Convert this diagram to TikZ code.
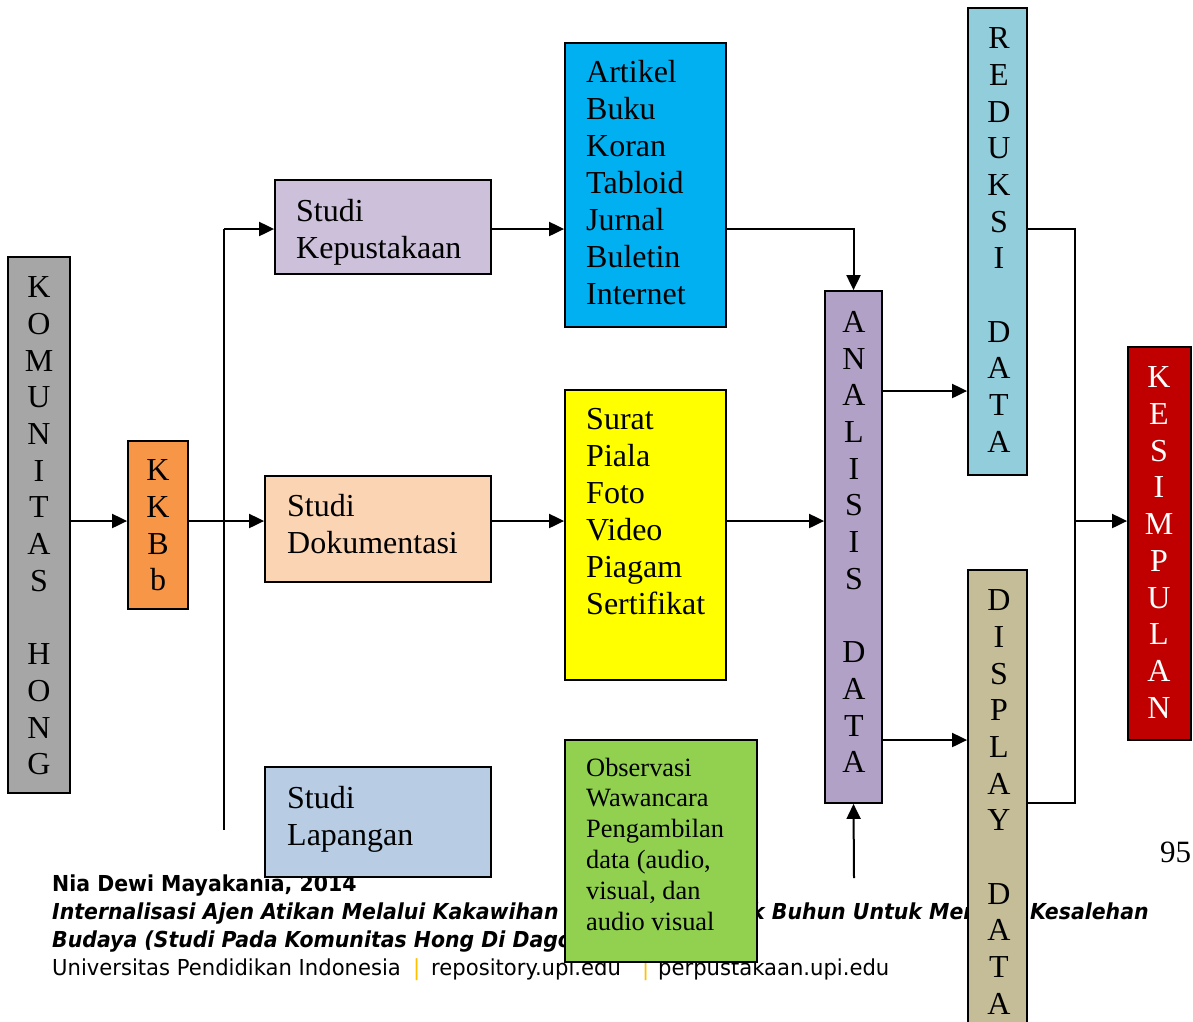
\documentclass[tikz,border=0pt]{standalone}
\usepackage{fontspec}
\setmainfont{Liberation Serif}
\newfontfamily\footfont{DejaVu Sans}[FakeStretch=0.96]
\newfontfamily\footfontb{DejaVu Sans}[FakeStretch=0.93]
\usetikzlibrary{arrows.meta}
\definecolor{cgray}{HTML}{A6A6A6}
\definecolor{corange}{HTML}{F79646}
\definecolor{clilac}{HTML}{CCC0DA}
\definecolor{cpeach}{HTML}{FBD4B4}
\definecolor{cpale}{HTML}{B8CCE4}
\definecolor{ccyan}{HTML}{00B0F0}
\definecolor{cyell}{HTML}{FFFF00}
\definecolor{cgreen}{HTML}{92D050}
\definecolor{cpurp}{HTML}{B2A1C7}
\definecolor{cteal}{HTML}{92CDDC}
\definecolor{ctan}{HTML}{C4BD97}
\definecolor{cred}{HTML}{C00000}
\definecolor{cbar}{HTML}{FFC000}
\begin{document}
\begin{tikzpicture}[x=1pt,y=-1pt,
  box/.style={draw=black, line width=1.8pt, inner sep=0pt},
  vtxt/.style={font=\fontsize{32}{36.7}\selectfont, align=center, inner sep=0pt},
  ltxt/.style={font=\fontsize{32}{37}\selectfont, align=left, anchor=north west, inner sep=0pt},
  stxt/.style={font=\fontsize{26.4}{30.8}\selectfont, align=left, anchor=north west, inner sep=0pt},
  foot/.style={font=\footfont\fontsize{22}{28}\selectfont, anchor=base west, inner sep=0pt},
  footb/.style={font=\footfontb\fontsize{22}{28}\selectfont\bfseries, anchor=base west, inner sep=0pt},
  arr/.style={line width=2pt, -{Triangle[length=15pt,width=14pt]}},
  conn/.style={line width=1.6pt}]
\useasboundingbox (0,0) rectangle (1193,1021);

% footer (drawn first, partly covered by boxes)
\node[footb] (f1) at (52,891) {Nia Dewi Mayakania, 2014};
\node[footb] (f2a) at (52,919) {\itshape Internalisasi Ajen Atikan Melalui Kakawihan B};
\node[footb] (f2b) at (751,919) {\itshape k Buhun Untuk Mem};
\node[footb] (f2c) at (1030,919) {\itshape Kesalehan};
\node[footb] (f3) at (52,947) {\itshape Budaya (Studi Pada Komunitas Hong Di Dago};
\node[foot] (f4a) at (52,975) {Universitas Pendidikan Indonesia};
\node[foot, text=cbar] (f4b) at (413,975) {|};
\node[foot] (f4c) at (431,975) {repository.upi.edu};
\node[foot, text=cbar] (f4d) at (642,975) {|};
\node[foot] (f4e) at (658,975) {perpustakaan.upi.edu};

% boxes
\node[box, fill=cgray, minimum width=62, minimum height=536] (kom) at (39,525) {};
\node[box, fill=corange, minimum width=60, minimum height=168] (kkbb) at (158,525) {};
\node[box, fill=clilac, minimum width=216, minimum height=94] (skep) at (383,227) {};
\node[box, fill=cpeach, minimum width=226, minimum height=106] (sdok) at (378,529) {};
\node[box, fill=cpale, minimum width=226, minimum height=110] (slap) at (378,822) {};
\node[box, fill=ccyan, minimum width=161, minimum height=284] (art) at (645.5,185) {};
\node[box, fill=cyell, minimum width=161, minimum height=290] (sur) at (645.5,535) {};
\node[box, fill=cgreen, minimum width=192, minimum height=222] (obs) at (661,851) {};
\node[box, fill=cpurp, minimum width=57, minimum height=512] (ana) at (853.5,547) {};
\node[box, fill=cteal, minimum width=59, minimum height=467] (red) at (997.5,241.5) {};
\node[box, fill=ctan, minimum width=59, minimum height=470] (dis) at (997.5,805) {};
\node[box, fill=cred, minimum width=63, minimum height=393] (kes) at (1159.5,543.5) {};

% texts
\node[vtxt] (kom-t) at (39,526) {K\\O\\M\\U\\N\\I\\T\\A\\S\\\mbox{}\\H\\O\\N\\G};
\node[vtxt] (kkbb-t) at (158,525.5) {K\\K\\B\\b};
\node[ltxt] (skep-t) at (296,199) {Studi\\Kepustakaan};
\node[ltxt] (sdok-t) at (287,494.5) {Studi\\Dokumentasi};
\node[ltxt] (slap-t) at (287,786) {Studi\\Lapangan};
\node[ltxt] (art-t) at (586,60.5) {Artikel\\Buku\\Koran\\Tabloid\\Jurnal\\Buletin\\Internet};
\node[ltxt] (sur-t) at (586,408.5) {Surat\\Piala\\Foto\\Video\\Piagam\\Sertifikat};
\node[stxt] (obs-t) at (586,757.5) {Observasi\\Wawancara\\Pengambilan\\data (audio,\\visual, dan\\audio visual};
\node[vtxt] (ana-t) at (854,542) {A\\N\\A\\L\\I\\S\\I\\S\\\mbox{}\\D\\A\\T\\A};
\node[vtxt] (red-t) at (999,240) {R\\E\\D\\U\\K\\S\\I\\\mbox{}\\D\\A\\T\\A};
\node[vtxt] (dis-t) at (999,802) {D\\I\\S\\P\\L\\A\\Y\\\mbox{}\\D\\A\\T\\A};
\node[vtxt, text=white] (kes-t) at (1159,542.5) {K\\E\\S\\I\\M\\P\\U\\L\\A\\N};
\node[font=\fontsize{31}{36}\selectfont, anchor=base west, inner sep=0pt] (page) at (1160,862) {95};

% helper coordinates
\coordinate (lvlA) at (0,521);
\coordinate (trTop) at (224,229);
\coordinate (trBot) at (224,830);
\coordinate (anaIn) at (854,878);
\coordinate (lvlR) at (0,391);
\coordinate (lvlD) at (0,740);
\coordinate (jTop) at (1075,229);
\coordinate (jMid) at (1075,521);
\coordinate (jBot) at (1075,803);

% connectors
\draw[arr] (kom.east |- lvlA) -- (kkbb.west |- lvlA);
\draw[arr] (kkbb.east |- lvlA) -- (sdok.west |- lvlA);
\draw[conn] (trBot) -- (trTop);
\draw[arr] (trTop) -- (skep.west |- trTop);
\draw[arr] (skep.east |- trTop) -- (art.west |- trTop);
\draw[arr] (art.east |- trTop) -| (ana.north);
\draw[arr] (sdok.east |- lvlA) -- (sur.west |- lvlA);
\draw[arr] (sur.east |- lvlA) -- (ana.west |- lvlA);
\draw[arr] (anaIn) -- (ana.south);
\draw[arr] (ana.east |- lvlR) -- (red.west |- lvlR);
\draw[arr] (ana.east |- lvlD) -- (dis.west |- lvlD);
\draw[conn] (red.east |- jTop) -- (jTop) -- (jBot) -- (dis.east |- jBot);
\draw[arr] (jMid) -- (kes.west |- jMid);
\end{tikzpicture}
\end{document}
